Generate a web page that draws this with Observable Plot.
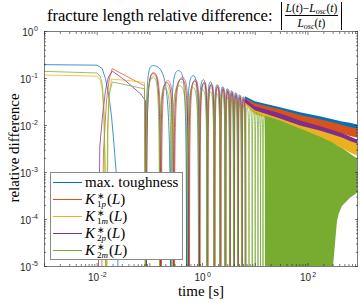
<!DOCTYPE html>
<html><head><meta charset="utf-8">
<script src="https://cdn.jsdelivr.net/npm/d3@7"></script>
<script src="https://cdn.jsdelivr.net/npm/@observablehq/plot@0.6"></script>
<style>
body{margin:0;background:#fff;}
#wrap{position:relative;width:360px;height:304px;overflow:hidden;font-family:"Liberation Serif",serif;color:#000;}
#chart{position:absolute;left:0;top:0;}
#title{position:absolute;left:47px;top:0;height:31px;display:flex;align-items:center;white-space:nowrap;font-size:16.5px;}
.abs{margin-left:8px;border-left:1px solid #000;border-right:1px solid #000;padding:0 3px;height:28px;display:inline-flex;align-items:center;}
.frac{display:inline-flex;flex-direction:column;align-items:center;font-size:11.5px;line-height:12px;}
.num{border-bottom:0.8px solid #000;padding:0 1px 1px;}
.den{padding-top:1px;}
.frac sub{font-size:8px;vertical-align:-2px;line-height:0;font-style:italic;}
#ylab{position:absolute;left:14px;top:148px;transform:translate(-50%,-50%) rotate(-90deg);white-space:nowrap;font-size:15px;}
#legend{position:absolute;left:50px;top:172px;width:133px;height:88px;border:1px solid #8a8a8a;background:#fff;box-sizing:border-box;font-size:15px;}
.row{position:absolute;left:0;height:16px;display:flex;align-items:center;white-space:nowrap;}
.ln{width:29px;height:0;border-top:1.2px solid;margin-left:2px;margin-right:3px;}
.ss{display:inline-flex;flex-direction:column;font-size:9px;line-height:8px;vertical-align:middle;margin-left:2px;margin-right:1px;position:relative;top:1px;}
</style></head>
<body><div id="wrap"><div id="chart"></div>
<div id="title"><span>fracture length relative difference:</span><span class="abs"><span class="frac"><span class="num"><i>L</i>(<i>t</i>)−<i>L</i><sub>osc</sub>(<i>t</i>)</span><span class="den"><i>L</i><sub>osc</sub>(<i>t</i>)</span></span></span></div>
<div id="ylab">relative difference</div>
<div id="legend">
<div class="row" style="top:1px"><span class="ln" style="border-color:#0072BD"></span>max. toughness</div>
<div class="row" style="top:18px"><span class="ln" style="border-color:#D95319"></span><i>K</i><span class="ss"><span>∗</span><span>1<i>p</i></span></span>(<i>L</i>)</div>
<div class="row" style="top:35px"><span class="ln" style="border-color:#EDB120"></span><i>K</i><span class="ss"><span>∗</span><span>1<i>m</i></span></span>(<i>L</i>)</div>
<div class="row" style="top:52px"><span class="ln" style="border-color:#7E2F8E"></span><i>K</i><span class="ss"><span>∗</span><span>2<i>p</i></span></span>(<i>L</i>)</div>
<div class="row" style="top:69px"><span class="ln" style="border-color:#77AC30"></span><i>K</i><span class="ss"><span>∗</span><span>2<i>m</i></span></span>(<i>L</i>)</div>
</div>
</div>
<script>
// value used for the zero crossings (|difference| = 0, below the axis)
const Z = 1e-7;

// max. toughness (blue)
const blueT = [0.001, 0.01, 0.01244, 0.01437, 0.0166, 0.01867, 0.02065, 0.02324, 0.02649, 0.0825, 0.112, 0.246, 0.349, 0.495, 0.672, 0.836, 1.04, 1.212, 1.412, 1.646, 1.892, 2.139, 2.385, 2.661, 2.93, 3.238, 3.535, 3.858, 4.21, 4.595, 5.012, 5.472, 5.892, 6.432];
const blueV = [0.197, 0.192, 0.162, 0.099, 0.0429, 0.016, 0.00446, 0.00084, Z, Z, 0.188, Z, 0.147, Z, 0.115, Z, 0.0941, Z, 0.0853, Z, 0.0737, Z, 0.0668, Z, 0.0605, Z, 0.0549, Z, 0.0497, Z, 0.045, Z, 0.0408, Z];

// K*_1p (orange)
const orangeT = [0.01155, 0.01317, 0.01502, 0.01712, 0.01926, 0.03443, 0.0663, 0.079, 0.0862, 0.117, 0.166, 0.2158, 0.293, 0.4155, 0.5642, 0.7332, 0.8927, 1.087, 1.266, 1.475, 1.719, 1.96, 2.234, 2.492, 2.78, 3.101, 3.383, 3.693, 4.03, 4.396, 4.798, 5.238, 5.664, 6.155, 6.69];
const orangeV = [Z, 0.00287, 0.0335, 0.104, 0.162, 0.115, 0.0774, 0.0702, Z, 0.133, Z, 0.0897, Z, 0.104, Z, 0.0942, Z, 0.0853, Z, 0.0774, Z, 0.0702, Z, 0.0636, Z, 0.0576, Z, 0.0522, Z, 0.0473, Z, 0.0429, Z, 0.0389, Z];

// K*_1m (yellow)
const yellowT = [0.001, 0.01, 0.01155, 0.0126, 0.01346, 0.01406, 0.01502, 0.01603, 0.01712, 0.01867, 0.03443, 0.0663, 0.079, 0.0825, 0.1223, 0.1555, 0.1977, 0.2685, 0.3807, 0.5284, 0.6866, 0.8545, 1.04, 1.228, 1.443, 1.667, 1.901, 2.167, 2.417, 2.697, 2.969, 3.281, 3.581, 3.908, 4.266, 4.655, 5.058, 5.496, 5.944, 6.489];
const yellowV = [0.1188, 0.112, 0.0897, 0.0497, 0.0125, 0.00107, Z, 0.00767, 0.0549, 0.0966, 0.092, 0.0842, 0.0813, Z, 0.115, Z, 0.0737, Z, 0.0852, Z, 0.0774, Z, 0.0702, Z, 0.0636, Z, 0.0576, Z, 0.0522, Z, 0.0473, Z, 0.0429, Z, 0.0389, Z, 0.0352, Z, 0.0319, Z];

// K*_2p (purple)
const purpleT = [0.01013, 0.0112, 0.0126, 0.01437, 0.01639, 0.01951, 0.03443, 0.0663, 0.0825, 0.0862, 0.117, 0.1589, 0.2065, 0.2805, 0.3977, 0.5401, 0.7176, 0.8734, 1.063, 1.239, 1.443, 1.682, 1.918, 2.186, 2.438, 2.72, 3.008, 3.311, 3.613, 3.943, 4.303, 4.696, 5.101, 5.544, 6.022, 6.545];
const purpleV = [Z, 0.00349, 0.016, 0.0557, 0.109, 0.1432, 0.0897, 0.0472, 0.0335, Z, 0.127, Z, 0.0813, Z, 0.0966, Z, 0.0876, Z, 0.0794, Z, 0.0719, Z, 0.0652, Z, 0.0591, Z, 0.0535, Z, 0.0485, Z, 0.044, Z, 0.0398, Z, 0.0361, Z];

// K*_2m (green)
const greenT = [0.001, 0.01, 0.01155, 0.0126, 0.01346, 0.01406, 0.01469, 0.01568, 0.01675, 0.01926, 0.03443, 0.0663, 0.079, 0.0825, 0.117, 0.1521, 0.1892, 0.257, 0.3645, 0.517, 0.6575, 0.836, 1.0044, 1.212, 1.412, 1.646, 1.876, 2.139, 2.385, 2.685, 2.969, 3.267, 3.566, 3.892, 4.247, 4.635, 5.034, 5.472, 5.944, 6.46, 6.989, 7.594, 8.144, 8.735, 9.325, 9.956, 10.59, 11.25, 11.91, 12.55, 13.22, 14.0, 14.76, 15.61];
const greenV = [0.1418, 0.131, 0.109, 0.0702, 0.0205, 0.00175, Z, 0.00767, 0.0429, 0.0842, 0.0737, 0.0627, 0.0605, Z, 0.104, Z, 0.0605, Z, 0.0702, Z, 0.0636, Z, 0.0576, Z, 0.0522, Z, 0.0473, Z, 0.0429, Z, 0.0389, Z, 0.0352, Z, 0.0319, Z, 0.0289, Z, 0.0262, Z, 0.0244, Z, 0.0226, Z, 0.021, Z, 0.0195, Z, 0.0181, Z, 0.01685, Z, 0.01565, Z];

// dense oscillation region: min / max of each series
const bandT = [6.5, 10, 30, 72, 170, 300, 450, 640, 870];
const blueUp = [0.041, 0.0319, 0.0238, 0.0186, 0.0153, 0.0132, 0.0119, 0.0111, 0.0103];
const blueLo = [0.036, 0.025, 0.0186, 0.0138, 0.0114, 0.0098, 0.0089, 0.0081, 0.00767];
const orangeUp = [0.0375, 0.029, 0.0216, 0.0164, 0.0132, 0.0114, 0.01005, 0.0091, 0.00846];
const orangeLo = [0.031, 0.0205, 0.0153, 0.0114, 0.0089, 0.00748, 0.00662, 0.00585, 0.00543];
const yellowUp = [0.034, 0.0226, 0.016, 0.0114, 0.0089, 0.0073, 0.0063, 0.0053, 0.00469];
const yellowLo = [0.027, 0.01685, 0.0114, 0.00767, 0.00543, 0.00404, 0.00324, 0.0026, 0.00224];
const purpleUp = [0.036, 0.025, 0.0177, 0.0125, 0.00957, 0.00786, 0.00678, 0.0057, 0.00492];
const purpleLo = [0.03, 0.0205, 0.0138, 0.0098, 0.00767, 0.0063, 0.00543, 0.00457, 0.00404];
const greenBandT = [15.61, 30, 72, 170, 300, 305, 363, 396, 451, 640, 870];
const greenUp = [0.0157, 0.0125, 0.00846, 0.0057, 0.00425, 0.0042, 0.00367, 0.0035, 0.00324, 0.00247, 0.00193];
const greenLo = [Z, Z, Z, Z, Z, 1e-5, 9.2e-5, 1.36e-4, 1.9e-4, 2.84e-4, 3.63e-4];

// axes
const xMajor = [1e-3, 1e-2, 1e-1, 1, 10, 100];
const xLabels = [1e-2, 1, 100];
const xExp = ["-2", "0", "2"];
const yMajor = [1, 1e-1, 1e-2, 1e-3, 1e-4, 1e-5];
const yExp = ["0", "-1", "-2", "-3", "-4", "-5"];

const colors = {blue: "#0072BD", orange: "#D95319", yellow: "#EDB120", purple: "#7E2F8E", green: "#77AC30"};
const series = [
  {c: colors.blue, t: blueT, v: blueV, bt: bandT, lo: blueLo, up: blueUp},
  {c: colors.orange, t: orangeT, v: orangeV, bt: bandT, lo: orangeLo, up: orangeUp},
  {c: colors.yellow, t: yellowT, v: yellowV, bt: bandT, lo: yellowLo, up: yellowUp},
  {c: colors.purple, t: purpleT, v: purpleV, bt: bandT, lo: purpleLo, up: purpleUp},
  {c: colors.green, t: greenT, v: greenV, bt: greenBandT, lo: greenLo, up: greenUp}
];

const W = 360, H = 304, ML = 44, MR = 3, MT = 31, MB = 38;
const DIP_Y = H - 4;

// curve: |sin|-like arches between a peak and a zero crossing
function arch(context) {
  let pts = [];
  return {
    areaStart() {}, areaEnd() {},
    lineStart() { pts = []; },
    point(x, y) { pts.push([+x, +y]); },
    lineEnd() {
      const n = pts.length; if (!n) return;
      const dip = i => pts[i][1] > DIP_Y;
      const peak = i => !dip(i) && (i === 0 || pts[i-1][1] > pts[i][1]) && (i === n-1 || pts[i+1][1] > pts[i][1]);
      context.moveTo(pts[0][0], pts[0][1]);
      for (let i = 1; i < n; i++) {
        const [x0, y0] = pts[i-1], [x1, y1] = pts[i];
        if (dip(i) && peak(i-1)) context.bezierCurveTo(x1, y0, x1, y0 + 0.1 * (y1 - y0), x1, y1);
        else if (dip(i-1) && peak(i)) context.bezierCurveTo(x0, y1 + 0.1 * (y0 - y1), x0, y1, x1, y1);
        else context.lineTo(x1, y1);
      }
    }
  };
}

const xMinor = d3.range(-3, 3).flatMap(e => d3.range(2, 10).map(k => k * 10 ** e)).filter(v => v < 870);
const yMinor = d3.range(-5, 0).flatMap(e => d3.range(2, 10).map(k => k * 10 ** e));

const axCol = "#262626";
const sans = "Liberation Sans, Arial, sans-serif";
const serif = "Liberation Serif, serif";
const marks = [];
for (const s of series) {
  marks.push(Plot.line(s.t, {x: s.t, y: s.v, stroke: s.c, strokeWidth: 0.75, curve: arch, clip: true}));
  marks.push(Plot.areaY(s.bt, {x: s.bt, y1: s.lo, y2: s.up, fill: s.c, clip: true}));
}
const tickOpts = {tickFormat: () => "", label: null, stroke: axCol, strokeWidth: 0.6};
const isNeg = (arr, exps) => arr.filter((d, i) => exps[i].startsWith("-"));
const isPos = (arr, exps) => arr.filter((d, i) => !exps[i].startsWith("-"));
marks.push(
  Plot.axisX({...tickOpts, anchor: "bottom", ticks: xMajor, tickSize: 3, dy: -3}),
  Plot.axisX({...tickOpts, anchor: "bottom", ticks: xMinor, tickSize: 2, dy: -2}),
  Plot.axisX({...tickOpts, anchor: "top", ticks: xMajor, tickSize: 3, dy: 3}),
  Plot.axisX({...tickOpts, anchor: "top", ticks: xMinor, tickSize: 2, dy: 2}),
  Plot.axisY({...tickOpts, anchor: "left", ticks: yMajor, tickSize: 3, dx: 3}),
  Plot.axisY({...tickOpts, anchor: "left", ticks: yMinor, tickSize: 2, dx: 2}),
  Plot.axisY({...tickOpts, anchor: "right", ticks: yMajor, tickSize: 3, dx: -3}),
  Plot.axisY({...tickOpts, anchor: "right", ticks: yMinor, tickSize: 2, dx: -2}),
  Plot.frame({stroke: axCol, strokeWidth: 0.6}),
  // x tick labels 10^e
  Plot.text(isNeg(xLabels, xExp), {x: d => d, text: () => "10", frameAnchor: "bottom", textAnchor: "end", dx: 1.9, dy: 14.5, fontSize: 10, fontFamily: sans, fill: axCol}),
  Plot.text(isPos(xLabels, xExp), {x: d => d, text: () => "10", frameAnchor: "bottom", textAnchor: "end", dx: 3.05, dy: 14.5, fontSize: 10, fontFamily: sans, fill: axCol}),
  Plot.text(isNeg(xLabels, xExp), {x: d => d, text: d => xExp[xLabels.indexOf(d)], frameAnchor: "bottom", textAnchor: "start", dx: 3.2, dy: 10, fontSize: 7, fontFamily: sans, fill: axCol}),
  Plot.text(isPos(xLabels, xExp), {x: d => d, text: d => xExp[xLabels.indexOf(d)], frameAnchor: "bottom", textAnchor: "start", dx: 4.35, dy: 10, fontSize: 7, fontFamily: sans, fill: axCol}),
  // y tick labels
  Plot.text(yMajor, {y: d => d, text: d => yExp[yMajor.indexOf(d)], frameAnchor: "left", textAnchor: "end", dx: -6.5, dy: -3, fontSize: 7, fontFamily: sans, fill: axCol}),
  Plot.text(isNeg(yMajor, yExp), {y: d => d, text: () => "10", frameAnchor: "left", textAnchor: "end", dx: -13.5, dy: 1.3, fontSize: 10, fontFamily: sans, fill: axCol}),
  Plot.text(isPos(yMajor, yExp), {y: d => d, text: () => "10", frameAnchor: "left", textAnchor: "end", dx: -11.2, dy: 1.3, fontSize: 10, fontFamily: sans, fill: axCol}),
  // x axis title
  Plot.text(["time [s]"], {text: d => d, frameAnchor: "bottom", dy: 29.5, fontSize: 15, fontFamily: serif, fill: "#000"})
);

const chart = Plot.plot({
  width: W, height: H,
  marginLeft: ML, marginRight: MR, marginTop: MT, marginBottom: MB,
  style: {background: "transparent", overflow: "visible"},
  x: {type: "log", domain: [1e-3, 870], axis: null},
  y: {type: "log", domain: [1e-5, 1], axis: null},
  marks
});
document.getElementById("chart").appendChild(chart);
</script>
</body></html>
